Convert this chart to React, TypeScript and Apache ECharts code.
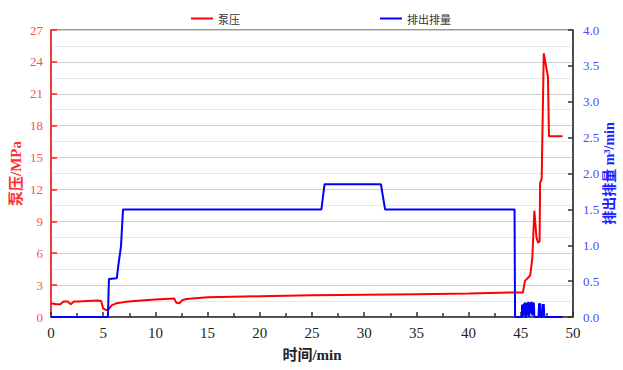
import React, { useEffect, useRef } from "react";
import * as echarts from "echarts";

const pressureTime = [0, 0.5, 0.9, 1.2, 1.6, 1.9, 2.2, 2.6, 3.5, 4.5, 4.8, 5.0, 5.3, 5.5, 5.8, 6.3, 7, 8, 10, 11.8, 12.0, 12.3, 12.6, 13, 15, 20, 25, 30, 35, 40, 44, 45.2, 45.4, 45.9, 46.1, 46.3, 46.5, 46.65, 46.8, 46.85, 47.0, 47.2, 47.6, 47.7, 49.0];
const pressureValues = [1.3, 1.2, 1.2, 1.45, 1.45, 1.2, 1.45, 1.45, 1.5, 1.55, 1.5, 0.8, 0.65, 0.7, 1.1, 1.3, 1.4, 1.5, 1.65, 1.75, 1.35, 1.3, 1.6, 1.7, 1.85, 1.95, 2.05, 2.1, 2.15, 2.2, 2.3, 2.3, 3.4, 3.9, 5.5, 10.0, 7.5, 7.0, 7.1, 12.6, 13.0, 24.8, 22.6, 17.0, 17.0];

const flowTime = [0, 5.45, 5.55, 6.3, 6.45, 6.7, 6.9, 25.9, 26.2, 31.6, 32.0, 44.4, 44.45, 45.1, 45.12, 45.18, 45.2, 45.25, 45.3, 45.35, 45.42, 45.45, 45.55, 45.58, 45.63, 45.68, 45.75, 45.8, 45.85, 45.9, 45.95, 46.05, 46.1, 46.15, 46.25, 46.3, 46.7, 46.75, 46.8, 46.85, 46.9, 47.05, 47.1, 47.15, 47.2, 47.25, 49.0];
const flowValues = [0, 0, 0.53, 0.54, 0.72, 0.98, 1.5, 1.5, 1.85, 1.85, 1.5, 1.5, 0, 0, 0.17, 0.17, 0, 0.18, 0.02, 0.19, 0.19, 0, 0, 0.2, 0.03, 0.2, 0.2, 0, 0.19, 0.05, 0.2, 0.2, 0.02, 0.19, 0.19, 0, 0, 0.19, 0.02, 0.19, 0, 0, 0.18, 0.01, 0.18, 0, 0];

const xTicks = [0, 50, 5];
const leftTicks = [0, 27, 3];
const rightTicks = [0, 4, 0.5];

const seriesNames = ["泵压", "排出排量"];

const FONT = "'Liberation Serif', 'Noto Sans CJK SC', serif";

export default function App() {
  const ref = useRef<HTMLDivElement>(null);
  useEffect(() => {
    if (!ref.current) return;
    const chart = echarts.init(ref.current, undefined, { renderer: "svg" });
    chart.setOption({
      animation: false,
      legend: {
        data: [seriesNames[0], seriesNames[1]],
        left: 186,
        top: 8,
        itemWidth: 22,
        itemHeight: 2,
        itemGap: 140,
        icon: "rect",
        textStyle: { fontSize: 11, color: "#333", fontFamily: "'Noto Sans CJK SC', sans-serif" },
      },
      grid: {
        left: 51,
        right: 50,
        top: 30,
        bottom: 53,
        show: true,
        borderColor: "#333",
        borderWidth: 1,
        outerBoundsMode: "none",
        containLabel: false,
      },
      xAxis: {
        type: "value",
        min: xTicks[0],
        max: xTicks[1],
        interval: xTicks[2],
        name: "时间/min",
        nameLocation: "middle",
        nameGap: 30,
        nameMoveOverlap: false,
        nameTextStyle: { fontSize: 15, fontWeight: "bold", color: "#222", fontFamily: FONT },
        axisLine: { lineStyle: { color: "#333", width: 1.5 } },
        axisTick: { inside: true, length: 5, lineStyle: { color: "#333", width: 1.5 } },
        minorTick: { show: true, splitNumber: 2, length: 4, lineStyle: { color: "#333", width: 1.5 } },
        axisLabel: { fontSize: 15, color: "#222", margin: 8, fontFamily: FONT },
        splitLine: { show: false },
      },
      yAxis: [
        {
          type: "value",
          position: "left",
          min: leftTicks[0],
          max: leftTicks[1],
          interval: leftTicks[2],
          name: "泵压/MPa",
          nameLocation: "middle",
          nameRotate: 90,
          nameGap: 28,
          nameMoveOverlap: false,
          nameTextStyle: { fontSize: 15, fontWeight: "bold", color: "#ff3030", fontFamily: FONT },
          axisLine: { show: true, lineStyle: { color: "#ff2020", width: 1.5 } },
          axisTick: { show: true, inside: true, length: 6, lineStyle: { color: "#ff2020", width: 1.5 } },
          axisLabel: { fontSize: 13, color: "#ff5050", margin: 8, fontFamily: FONT },
          splitLine: { show: true, lineStyle: { color: "#cfcfcf", width: 1 } },
          minorTick: { show: false, splitNumber: 2 },
          minorSplitLine: { show: true, lineStyle: { color: "#e8e8e8", width: 1 } },
        },
        {
          type: "value",
          position: "right",
          min: rightTicks[0],
          max: rightTicks[1],
          interval: rightTicks[2],
          name: "排出排量 m³/min",
          nameLocation: "middle",
          nameRotate: 90,
          nameGap: 29,
          nameMoveOverlap: false,
          nameTextStyle: { fontSize: 14, fontWeight: "bold", color: "#2020ff", fontFamily: FONT },
          axisLine: { show: true, lineStyle: { color: "#333", width: 1.5 } },
          axisTick: { show: true, inside: true, length: 5, lineStyle: { color: "#333", width: 1.5 } },
          axisLabel: {
            fontSize: 13,
            color: "#4a4aff",
            margin: 10,
            fontFamily: FONT,
            formatter: (v: number) => v.toFixed(1),
          },
          splitLine: { show: false },
        },
      ],
      series: [
        {
          name: seriesNames[0],
          type: "line",
          yAxisIndex: 0,
          showSymbol: false,
          symbol: "none",
          color: "#ff0000",
          lineStyle: { color: "#ff0000", width: 2 },
          data: pressureTime.map((t, i) => [t, pressureValues[i]]),
          z: 3,
        },
        {
          name: seriesNames[1],
          type: "line",
          yAxisIndex: 1,
          showSymbol: false,
          symbol: "none",
          color: "#0000ff",
          lineStyle: { color: "#0000ff", width: 2 },
          data: flowTime.map((t, i) => [t, flowValues[i]]),
          z: 4,
        },
      ],
    });
    return () => chart.dispose();
  }, []);
  return <div ref={ref} style={{ width: 623, height: 370, position: "absolute", left: 0, top: 0 }} />;
}
